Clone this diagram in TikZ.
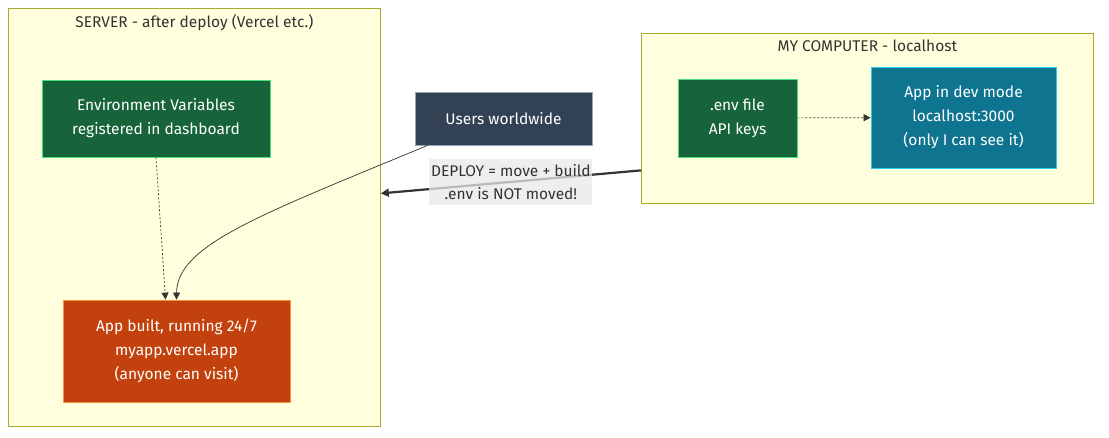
\documentclass[tikz,border=0pt]{standalone}
\usepackage{fontspec}
\setmainfont{Fira Sans}
\usetikzlibrary{arrows.meta,positioning}
\definecolor{clusterfill}{HTML}{FFFFDE}
\definecolor{clusterline}{HTML}{AAAA33}
\definecolor{envgreen}{HTML}{17633A}
\definecolor{envline}{HTML}{4ADE80}
\definecolor{liveorange}{HTML}{C2410C}
\definecolor{liveline}{HTML}{FB923C}
\definecolor{usersblue}{HTML}{334155}
\definecolor{usersline}{HTML}{94A3B8}
\definecolor{devteal}{HTML}{0E7490}
\definecolor{devline}{HTML}{22D3EE}
\definecolor{edgegray}{HTML}{333333}

\begin{document}
\begin{tikzpicture}[
    x=1pt, y=-1pt,
    cluster/.style={draw=clusterline, fill=clusterfill, line width=0.8pt, inner sep=0pt, anchor=north west},
    title/.style={text=edgegray, font=\fontsize{15.5}{18}\selectfont},
    box/.style={draw, line width=0.8pt, text=white, align=center, inner sep=0pt,
      font=\fontsize{15.5}{24}\selectfont},
    link/.style={-{Triangle[length=7pt, width=7pt]}, edgegray, line width=0.7pt},
    deploy/.style={-{Triangle[length=8pt, width=8pt]}, edgegray, line width=2.2pt},
    tag/.style={fill=gray!18, fill opacity=0.75, text opacity=1, text=edgegray, align=center,
      inner sep=0pt, minimum width=163pt, minimum height=46pt, font=\fontsize{15.5}{23}\selectfont}
  ]
  \useasboundingbox (0,0) rectangle (1109,438);

  % clusters
  \node[cluster, minimum width=372pt, minimum height=418pt] (server) at (8,8) {};
  \node[title, below=3pt of server.north] (servertitle) {SERVER - after deploy (Vercel etc.)};
  \node[cluster, minimum width=452pt, minimum height=170pt] (local) at (641,33) {};
  \node[title, below=3pt of local.north] (localtitle) {MY COMPUTER - localhost};

  % nodes
  \node[box, fill=envgreen, draw=envline, minimum width=228pt, minimum height=77pt] (vars) at (156,118.5)
    {Environment Variables\\registered in dashboard};
  \node[box, fill=liveorange, draw=liveline, minimum width=227pt, minimum height=102pt] (live) at (176.5,351)
    {App built, running 24/7\\myapp.vercel.app\\(anyone can visit)};
  \node[box, fill=usersblue, draw=usersline, minimum width=177pt, minimum height=53pt] (users) at (503.5,118.5)
    {Users worldwide};
  \node[box, fill=envgreen, draw=envline, minimum width=119pt, minimum height=78pt] (envfile) at (737.5,118)
    {.env file\\API keys};
  \node[box, fill=devteal, draw=devline, minimum width=185pt, minimum height=101pt] (dev) at (963.5,117.5)
    {App in dev mode\\localhost:3000\\(only I can see it)};

  % connectors
  \draw[link, dash pattern=on 2pt off 2pt] (envfile) -- (dev);
  \draw[link, dash pattern=on 2pt off 2pt] (vars.south) -- ([xshift=-11pt]live.north);
  \draw[link] ([xshift=13pt]users.south west) .. controls (260,215) and (177,245) .. (live.north);
  \draw[deploy] ([yshift=-52pt]local.west) -- ([yshift=24pt]server.east)
    node[tag, pos=0.5] (deploylabel) {DEPLOY = move + build\\.env is NOT moved!};
\end{tikzpicture}
\end{document}
